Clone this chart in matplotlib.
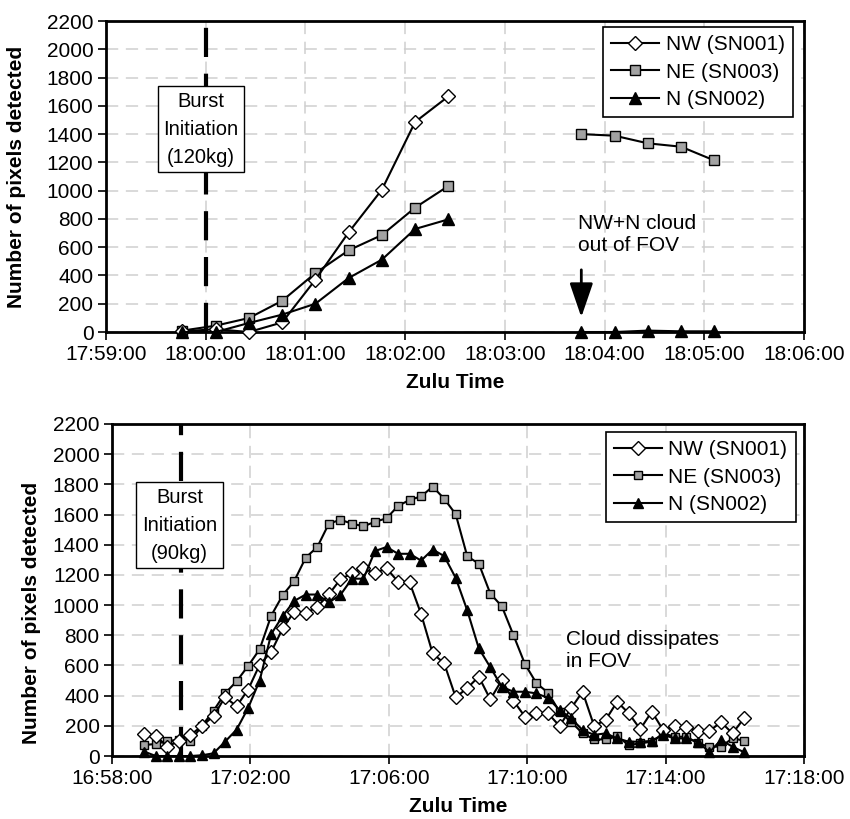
import matplotlib
matplotlib.use("Agg")
import matplotlib.pyplot as plt
from matplotlib.ticker import FuncFormatter, FixedLocator
import numpy as np

plt.rcParams['font.family'] = ['Liberation Sans', 'DejaVu Sans']

# ---- top chart (120 kg burst) ----
top_times = ["17:59:46", "18:00:06", "18:00:26", "18:00:46", "18:01:06", "18:01:26",
             "18:01:46", "18:02:06", "18:02:26", "18:02:46", "18:03:06", "18:03:26",
             "18:03:46", "18:04:06", "18:04:26", "18:04:46", "18:05:06"]
nan = np.nan
top_nw = [5, 20, 0, 68, 370, 705, 1007, 1486, 1667, nan, nan, nan, nan, nan, nan, nan, nan]
top_ne = [10, 45, 99, 221, 417, 578, 686, 880, 1033, nan, nan, nan, 1400, 1389, 1335, 1311, 1214]
top_n = [0, 0, 64, 123, 200, 382, 512, 729, 797, nan, nan, nan, 0, 0, 10, 5, 5]
top_xticks = ["17:59:00", "18:00:00", "18:01:00", "18:02:00", "18:03:00",
              "18:04:00", "18:05:00", "18:06:00"]
top_burst = "18:00:00"
top_arrow_time = "18:03:46"

# ---- bottom chart (90 kg burst) ----
bot_times = ["16:58:56", "16:59:16", "16:59:36", "16:59:56", "17:00:16", "17:00:36",
             "17:00:56", "17:01:16", "17:01:36", "17:01:56", "17:02:16", "17:02:36",
             "17:02:56", "17:03:16", "17:03:36", "17:03:56", "17:04:16", "17:04:36",
             "17:04:56", "17:05:16", "17:05:36", "17:05:56", "17:06:16", "17:06:36",
             "17:06:56", "17:07:16", "17:07:36", "17:07:56", "17:08:16", "17:08:36",
             "17:08:56", "17:09:16", "17:09:36", "17:09:56", "17:10:16", "17:10:36",
             "17:10:56", "17:11:16", "17:11:36", "17:11:56", "17:12:16", "17:12:36",
             "17:12:56", "17:13:16", "17:13:36", "17:13:56", "17:14:16", "17:14:36",
             "17:14:56", "17:15:16", "17:15:36", "17:15:56", "17:16:16"]
bot_nw = [146, 133, 62, 100, 139, 199, 265, 390, 330, 440, 605, 690, 846, 956, 945, 990,
          1071, 1171, 1210, 1244, 1210, 1244, 1155, 1150, 941, 680, 614, 389, 450, 526,
          375, 504, 367, 261, 287, 283, 199, 316, 426, 199, 239, 360, 283, 178, 294, 170,
          200, 190, 168, 165, 225, 150, 250]
bot_ne = [73, 80, 100, 107, 100, 200, 300, 415, 495, 597, 707, 930, 1066, 1160, 1315, 1385,
          1540, 1565, 1540, 1522, 1552, 1575, 1657, 1697, 1720, 1785, 1705, 1602, 1323, 1275,
          1076, 992, 802, 610, 482, 420, 294, 227, 150, 110, 110, 130, 73, 84, 95, 150,
          128, 128, 84, 62, 62, 117, 102]
bot_n = [29, 0, 0, 0, 0, 5, 18, 95, 175, 318, 500, 808, 928, 1028, 1070, 1070, 1018, 1067,
         1175, 1175, 1358, 1385, 1340, 1340, 1295, 1368, 1325, 1180, 965, 714, 588, 459,
         426, 426, 415, 385, 305, 250, 172, 140, 150, 117, 95, 95, 100, 139, 117, 117, 95,
         25, 106, 62, 25]
bot_xticks = ["16:58:00", "17:02:00", "17:06:00", "17:10:00", "17:14:00", "17:18:00"]
bot_burst = "17:00:00"

series_names = ["NW (SN001)", "NE (SN003)", "N (SN002)"]
y_ticks = list(range(0, 2201, 200))
FS = 15


def secs(t):
    h, m, s = t.split(":")
    return int(h) * 3600 + int(m) * 60 + int(s)


def hms(v, pos=None):
    v = int(round(v))
    return "%d:%02d:%02d" % (v // 3600, (v // 60) % 60, v % 60)


def draw_panel(ax, times, nw, ne, n, xticks, burst, burst_text, box_y, legend_anchor, ms):
    x = [secs(t) for t in times]
    ax.plot(x, nw, color='black', lw=1.5, marker='D', ms=ms[0], mfc='white',
            mec='black', mew=1.0, label=series_names[0], clip_on=False, zorder=4)
    ax.plot(x, ne, color='black', lw=1.5, marker='s', ms=ms[1], mfc='#a3a3a3',
            mec='black', mew=1.0, label=series_names[1], clip_on=False, zorder=3)
    ax.plot(x, n, color='black', lw=1.5, marker='^', ms=ms[2], mfc='black',
            mec='black', label=series_names[2], clip_on=False, zorder=5)

    ax.set_xlim(secs(xticks[0]), secs(xticks[-1]))
    ax.set_ylim(0, 2200)
    ax.xaxis.set_major_locator(FixedLocator([secs(t) for t in xticks]))
    ax.xaxis.set_major_formatter(FuncFormatter(hms))
    ax.set_yticks(y_ticks)
    ax.grid(True, color='#cfcfcf', lw=1.1, linestyle=(0, (8, 5)))
    ax.set_axisbelow(True)
    for sp in ax.spines.values():
        sp.set_linewidth(2.0)
    ax.tick_params(labelsize=FS, length=6, width=1.2, pad=3)

    # burst initiation line and box
    bx = secs(burst)
    ax.plot([bx, bx], [0, 2200], color='black', lw=3, linestyle=(0, (7, 4)), zorder=2)
    ax.text(bx - 3, box_y, burst_text, ha='center', va='center', fontsize=14.5,
            linespacing=1.6, zorder=6,
            bbox=dict(boxstyle='square,pad=0.28', fc='white', ec='black', lw=1.0))

    ax.set_xlabel("Zulu Time", fontsize=FS, fontweight='bold', labelpad=7)
    ax.set_ylabel("Number of pixels detected", fontsize=FS, fontweight='bold')
    leg = ax.legend(loc='upper right', bbox_to_anchor=legend_anchor, borderaxespad=0,
                    fontsize=FS, fancybox=False, framealpha=1, edgecolor='black',
                    handlelength=2.3, handletextpad=0.3, labelspacing=0.4,
                    borderpad=0.4)
    leg.get_frame().set_linewidth(1.2)


fig = plt.figure(figsize=(8.5, 8.19), dpi=100)
ax1 = fig.add_axes([0.1247, 0.5946, 0.8212, 0.3797])
ax2 = fig.add_axes([0.1318, 0.0769, 0.8141, 0.4054])

draw_panel(ax1, top_times, top_nw, top_ne, top_n, top_xticks, top_burst,
           "Burst\nInitiation\n(120kg)", 1435, (0.984, 0.981), (7.5, 7, 8))
draw_panel(ax2, bot_times, bot_nw, bot_ne, bot_n, bot_xticks, bot_burst,
           "Burst\nInitiation\n(90kg)", 1530, (0.988, 0.976), (7, 6, 7.5))

ax1.yaxis.set_label_coords(-0.115, 0.5)
ax2.yaxis.set_label_coords(-0.103, 0.43)

# top annotation: arrow and note
ta = secs(top_arrow_time)
ax1.annotate("", xy=(ta, 105), xytext=(ta, 440),
             arrowprops=dict(arrowstyle='-|>,head_length=1.05,head_width=0.36',
                             mutation_scale=20, color='black', lw=2, shrinkA=0, shrinkB=0))
ax1.text(ta - 2, 835, "NW+N cloud\nout of FOV", ha='left', va='top', fontsize=FS,
         linespacing=1.2)

# bottom note
ax2.text(secs("17:11:07"), 835, "Cloud dissipates\nin FOV", ha='left', va='top',
         fontsize=FS, linespacing=1.2)

fig.savefig("out.png", dpi=100)
